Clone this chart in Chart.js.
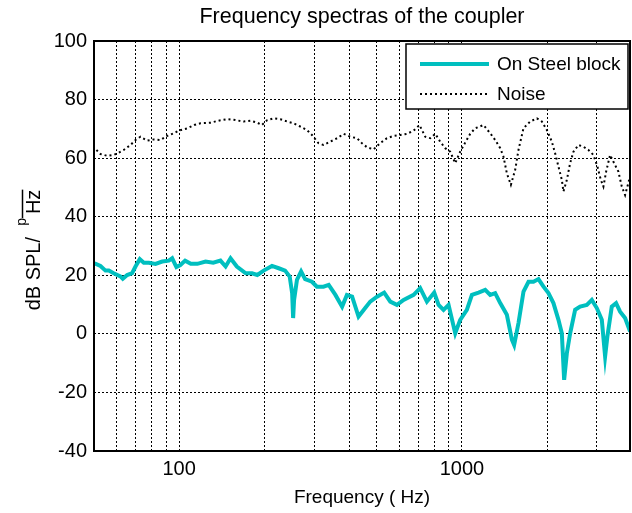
<!DOCTYPE html>
<html>
<head>
<meta charset="utf-8">
<script src="https://cdn.jsdelivr.net/npm/chart.js@4.4.1/dist/chart.umd.min.js"></script>
<style>
  body { margin: 0; background: #fff; }
  #wrap { width: 632px; height: 513px; }
</style>
</head>
<body>
<div id="wrap"><canvas id="specChart" width="632" height="513"></canvas></div>
<script>
// values
const steelFreq = [50.2, 52.7, 54.9, 56.4, 58.7, 62.0, 63.2, 65.5, 68.2, 70.1, 72.6, 75.0, 78.1, 82.5, 87.1, 91.9, 94.5, 97.8,
  101, 105, 110, 116, 124, 132, 140, 146, 152, 160, 172, 181, 189, 199, 213, 225, 237, 246, 251, 253, 255, 261, 270, 279,
  295, 307, 324, 338, 357, 377, 392, 409, 431, 455, 474, 501, 531, 558, 589, 622, 675, 712, 752, 798, 827, 861, 897, 947,
  986, 1041, 1085, 1145, 1209, 1259, 1311, 1366, 1442, 1502, 1530, 1585, 1651, 1720, 1791, 1865, 1943, 2023, 2107, 2195,
  2256, 2299, 2350, 2414, 2514, 2618, 2765, 2880, 2999, 3124, 3209, 3269, 3388, 3509, 3626, 3776, 3933];
const steelDb = [24.1, 23.2, 21.6, 21.6, 20.7, 19.6, 18.8, 20.1, 20.7, 23.0, 25.5, 24.3, 24.3, 23.9, 24.7, 25.0, 25.8, 22.8,
  23.5, 25.0, 23.9, 23.9, 24.7, 24.3, 25.0, 23.0, 25.8, 23.0, 20.7, 20.7, 20.1, 21.6, 23.2, 22.4, 21.6, 19.6, 13.9, 5.4,
  11.6, 18.4, 21.3, 18.7, 17.8, 16.1, 16.1, 16.7, 13.3, 9.3, 13.3, 12.7, 5.9, 8.8, 11.0, 12.7, 14.1, 11.0, 9.9, 11.6, 13.3,
  15.6, 11.0, 14.1, 9.9, 8.2, 9.9, 0.2, 4.8, 8.2, 13.3, 14.1, 15.0, 13.3, 13.9, 10.5, 6.5, -2.0, -3.8, 3.7, 14.4, 17.8,
  17.8, 18.7, 16.1, 13.9, 10.5, 4.8, 0.2, -15.7, -6.6, 0.2, 8.2, 9.3, 9.9, 11.6, 8.8, 4.8, -7.7, -0.9, 9.3, 10.5, 7.6, 5.4, 0.8];

const noiseFreq = [51.0, 52.7, 55.7, 58.7, 61.2, 63.7, 67.3, 70.1, 73.0, 77.1, 81.3, 85.9, 90.7, 95.7, 99.7, 107, 113, 119,
  129, 138, 148, 158, 169, 179, 189, 196, 205, 216, 228, 241, 254, 268, 283, 295, 311, 324, 342, 362, 382, 403, 426, 443,
  462, 487, 514, 543, 573, 605, 639, 675, 708, 742, 773, 805, 838, 873, 909, 947, 986, 1027, 1070, 1114, 1192, 1259, 1311,
  1366, 1403, 1442, 1490, 1543, 1585, 1651, 1743, 1841, 1917, 1997, 2080, 2136, 2195, 2256, 2286, 2350, 2414, 2480, 2582,
  2690, 2802, 2917, 3015, 3099, 3165, 3236, 3342, 3453, 3576, 3676, 3776, 3848, 3930];
const noiseDb = [62.8, 61.4, 60.8, 61.1, 61.9, 62.8, 64.5, 66.2, 67.3, 66.0, 66.4, 66.2, 67.6, 68.5, 69.4, 70.2, 71.3, 71.9,
  72.1, 72.8, 73.3, 73.0, 72.5, 72.8, 72.1, 71.3, 73.0, 73.6, 73.3, 72.5, 71.9, 70.8, 69.6, 67.9, 65.1, 64.5, 65.6, 66.8,
  68.3, 67.3, 66.8, 65.1, 63.7, 63.0, 65.1, 66.8, 67.6, 67.9, 68.3, 69.4, 71.3, 67.3, 66.8, 68.3, 65.6, 63.4, 62.2, 58.3,
  62.2, 65.3, 68.3, 70.2, 71.3, 68.5, 66.2, 63.4, 60.5, 54.8, 50.9, 56.0, 62.8, 70.2, 72.5, 73.6, 72.5, 69.6, 65.6, 61.7,
  57.1, 52.6, 48.6, 52.6, 58.3, 62.2, 64.5, 63.9, 62.8, 61.1, 57.1, 52.6, 50.3, 55.4, 61.1, 58.3, 55.4, 50.3, 47.4, 50.3, 53.7];

const xGridTicks = [60, 70, 80, 90, 100, 200, 300, 400, 500, 600, 700, 800, 900, 1000, 2000, 3000];
const xTickLabels = [100, 1000];
const yTicks = [-40, -20, 0, 20, 40, 60, 80, 100];

const FONT = '"Liberation Sans", Arial, sans-serif';
const TEAL = 'rgb(0, 191, 191)';

function toPoints(xs, ys) {
    return xs.map((x, i) => ({ x: x, y: ys[i] }));
}

// box, legend, title and y label drawn by hand (MATLAB look)
const decorPlugin = {
    id: 'decor',
    afterDraw(chart) {
        const ctx = chart.ctx;
        const a = chart.chartArea;
        ctx.save();

        // axes box
        ctx.strokeStyle = '#000';
        ctx.lineWidth = 2;
        ctx.strokeRect(a.left, a.top, a.right - a.left, a.bottom - a.top);

        // legend
        const lx = 406, ly = 44, lw = 222, lh = 65;
        ctx.fillStyle = '#fff';
        ctx.fillRect(lx, ly, lw, lh);
        ctx.lineWidth = 1.5;
        ctx.strokeRect(lx, ly, lw, lh);
        ctx.font = '19px ' + FONT;
        ctx.textBaseline = 'middle';
        ctx.textAlign = 'left';
        chart.data.datasets.forEach((ds, i) => {
            const yy = 64 + i * 30;
            ctx.beginPath();
            ctx.strokeStyle = ds.borderColor;
            ctx.lineWidth = ds.borderWidth;
            ctx.setLineDash(ds.borderDash || []);
            ctx.moveTo(420, yy);
            ctx.lineTo(489, yy);
            ctx.stroke();
            ctx.setLineDash([]);
            ctx.fillStyle = '#000';
            ctx.fillText(ds.label, 497, yy + 1);
        });

        // title
        ctx.fillStyle = '#000';
        ctx.font = '21.5px ' + FONT;
        ctx.textAlign = 'center';
        ctx.textBaseline = 'middle';
        ctx.fillText('Frequency spectras of the coupler', (a.left + a.right) / 2, 17);

        // y axis label: dB SPL/ sqrt(Hz), rendered like the original
        ctx.translate(39.5, 0);
        ctx.rotate(-Math.PI / 2);
        ctx.textAlign = 'left';
        ctx.textBaseline = 'alphabetic';
        const main = 'dB SPL/  ';
        ctx.font = '20px ' + FONT;
        const w1 = ctx.measureText(main).width;
        const wHz = ctx.measureText('Hz').width;
        ctx.font = '14px ' + FONT;
        const wp = ctx.measureText('p').width;
        const total = w1 + wp + 4 + wHz;
        let u = -((a.top + a.bottom) / 2 + 4 + total / 2);
        ctx.font = '20px ' + FONT;
        ctx.fillText(main, u, 0);
        u += w1;
        ctx.font = '14px ' + FONT;
        ctx.fillText('p', u, -14);
        u += wp + 4;
        ctx.font = '20px ' + FONT;
        ctx.fillText('Hz', u, 0);
        ctx.lineWidth = 1.5;
        ctx.strokeStyle = '#000';
        ctx.beginPath();
        ctx.moveTo(u - 4, -17);
        ctx.lineTo(u + wHz, -17);
        ctx.stroke();

        ctx.restore();
    }
};

const ctx = document.getElementById('specChart').getContext('2d');
const specChart = new Chart(ctx, {
    type: 'line',
    data: {
        datasets: [{
            label: 'On Steel block',
            data: toPoints(steelFreq, steelDb),
            borderColor: TEAL,
            borderWidth: 4,
            pointRadius: 0,
            tension: 0
        }, {
            label: 'Noise',
            data: toPoints(noiseFreq, noiseDb),
            borderColor: '#000',
            borderWidth: 2,
            borderDash: [2, 3],
            pointRadius: 0,
            tension: 0
        }]
    },
    options: {
        responsive: false,
        animation: false,
        devicePixelRatio: 1,
        layout: { padding: { top: 41, right: 2, left: 0, bottom: 0 } },
        plugins: {
            legend: { display: false },
            title: { display: false },
            tooltip: { enabled: false }
        },
        scales: {
            x: {
                type: 'logarithmic',
                min: 50,
                max: 3930,
                afterBuildTicks: function(scale) {
                    scale.ticks = xGridTicks.map(v => ({ value: v }));
                },
                afterFit: function(scale) { scale.height = 62; },
                ticks: {
                    autoSkip: false,
                    maxRotation: 0,
                    padding: 6,
                    color: '#000',
                    font: { family: FONT, size: 20 },
                    callback: function(value) {
                        return xTickLabels.includes(value) ? String(value) : '';
                    }
                },
                grid: { color: '#000', lineWidth: 1, drawTicks: false },
                border: { display: false, dash: [2, 2] },
                title: {
                    display: true,
                    text: 'Frequency ( Hz)',
                    color: '#000',
                    font: { family: FONT, size: 19 },
                    padding: { top: 0, bottom: 4 }
                }
            },
            y: {
                min: -40,
                max: 100,
                afterBuildTicks: function(scale) {
                    scale.ticks = yTicks.map(v => ({ value: v }));
                },
                afterFit: function(scale) { scale.width = 94; },
                ticks: {
                    padding: 7,
                    color: '#000',
                    font: { family: FONT, size: 20 }
                },
                grid: { color: '#000', lineWidth: 1, drawTicks: false },
                border: { display: false, dash: [2, 2] }
            }
        }
    },
    plugins: [decorPlugin]
});
</script>
</body>
</html>
